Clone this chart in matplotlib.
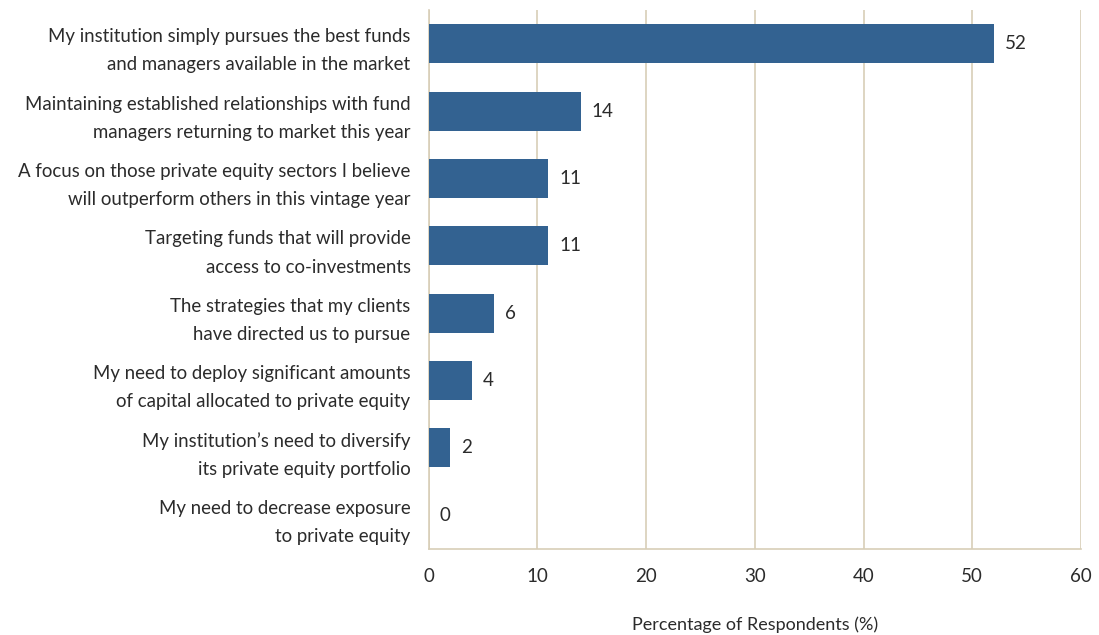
import numpy as np
import matplotlib.pyplot as plt

plt.rcParams['font.family'] = ['Lato', 'DejaVu Sans']

labels = [
    "My institution simply pursues the best funds\nand managers available in the market",
    "Maintaining established relationships with fund\nmanagers returning to market this year",
    "A focus on those private equity sectors I believe\nwill outperform others in this vintage year",
    "Targeting funds that will provide\naccess to co-investments",
    "The strategies that my clients\nhave directed us to pursue",
    "My need to deploy significant amounts\nof capital allocated to private equity",
    "My institution\u2019s need to diversify\nits private equity portfolio",
    "My need to decrease exposure\nto private equity",
]
values = [52, 14, 11, 11, 6, 4, 2, 0]
xticks = [0, 10, 20, 30, 40, 50, 60]

bar_color = '#336291'
grid_color = '#d8ceb8'
text_color = '#2b2b2b'

fig = plt.figure(figsize=(10.99, 6.35), dpi=100)
ax = fig.add_axes([0.390, 0.1354, 0.5936, 0.8488])

y = np.arange(len(values))
ax.barh(y, values, height=0.58, color=bar_color, zorder=3)
for yi, v in zip(y, values):
    ax.text(v + 1.0, yi, str(v), va='center', ha='left', fontsize=13.5, color=text_color)

ax.set_ylim(len(values) - 0.5, -0.5)
ax.set_xlim(0, 60)
ax.set_xticks(xticks)
ax.set_xticklabels([str(t) for t in xticks], fontsize=13.5, color=text_color)
ax.set_yticks(y)
ax.set_yticklabels(labels, fontsize=13.4, color=text_color, linespacing=1.8)
ax.tick_params(axis='both', length=0)
ax.tick_params(axis='x', pad=14)
ax.tick_params(axis='y', pad=13)

ax.grid(axis='x', color=grid_color, linewidth=1.2, zorder=0)
for s in ['top', 'right']:
    ax.spines[s].set_visible(False)
for s in ['left', 'bottom']:
    ax.spines[s].set_color(grid_color)
    ax.spines[s].set_linewidth(1.2)

ax.set_xlabel("Percentage of Respondents (%)", fontsize=13, color=text_color, labelpad=22)

fig.savefig('out.png', dpi=100)
